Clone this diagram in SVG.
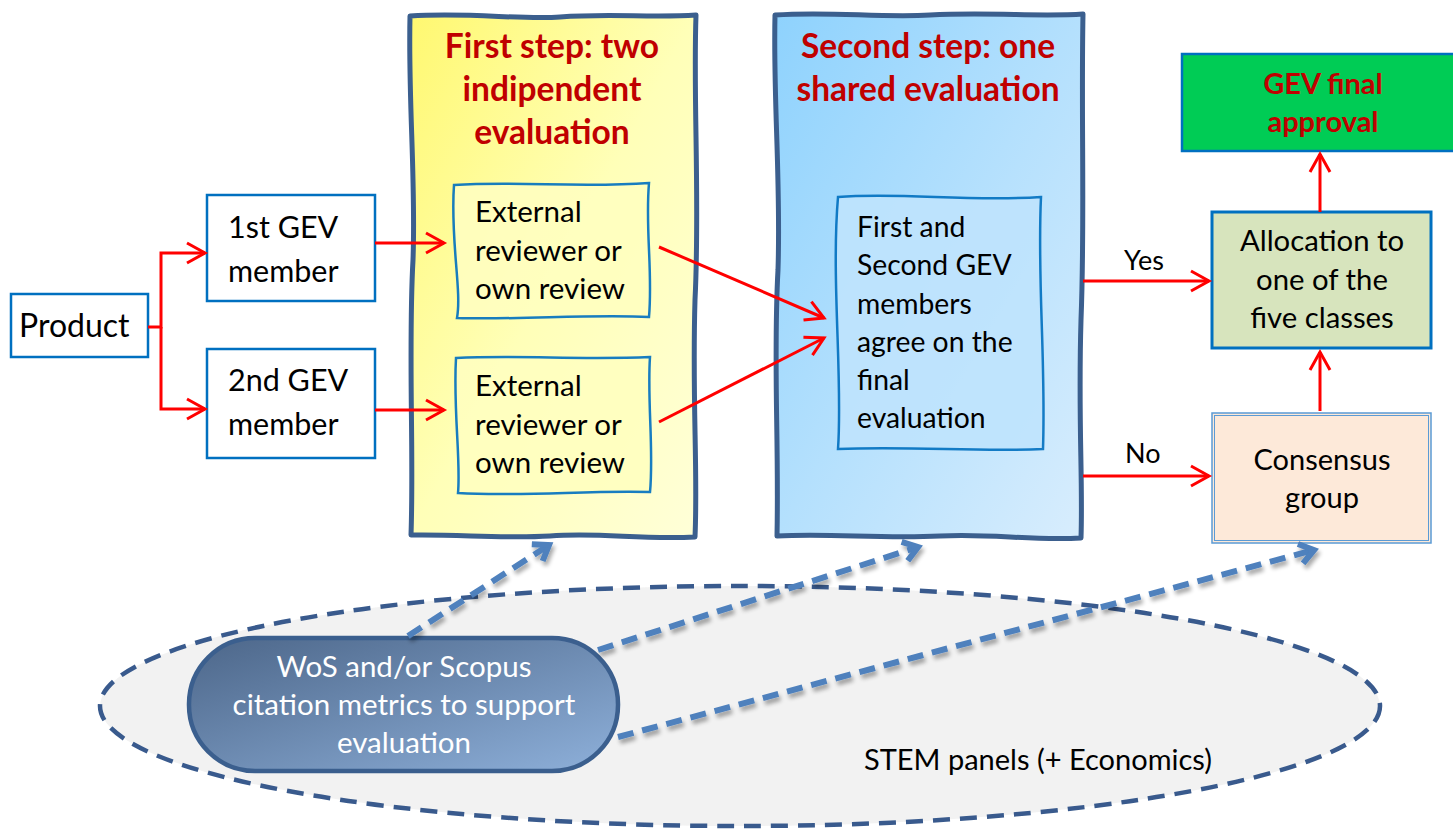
<svg xmlns="http://www.w3.org/2000/svg" width="1453" height="832" viewBox="0 0 1453 832">
<defs>
<linearGradient id="gy" x1="0" y1="0" x2="1" y2="1"><stop offset="0" stop-color="#fff870"/><stop offset="0.5" stop-color="#ffffb8"/><stop offset="1" stop-color="#ffffd8"/></linearGradient>
<linearGradient id="gb" x1="0" y1="0" x2="1" y2="1"><stop offset="0" stop-color="#8ed2fd"/><stop offset="0.5" stop-color="#b4e0fd"/><stop offset="1" stop-color="#d8edfd"/></linearGradient>
<linearGradient id="gp" x1="0" y1="0" x2="1" y2="1"><stop offset="0" stop-color="#4c6689"/><stop offset="1" stop-color="#8eb0da"/></linearGradient>
<marker id="ar" markerWidth="24" markerHeight="24" refX="19" refY="12" orient="auto" markerUnits="userSpaceOnUse"><path d="M1,2 L19,12 L1,22" fill="none" stroke="#ff0000" stroke-width="3"/></marker>
<marker id="ab" markerWidth="24" markerHeight="24" refX="18" refY="12" orient="auto" markerUnits="userSpaceOnUse"><path d="M4,2 L18,12 L4,22" fill="none" stroke="#4f81bd" stroke-width="6" stroke-linejoin="miter"/></marker>
<filter id="sh" x="-10%" y="-10%" width="120%" height="130%"><feGaussianBlur in="SourceAlpha" stdDeviation="2"/><feOffset dx="2" dy="4"/><feComponentTransfer><feFuncA type="linear" slope="0.35"/></feComponentTransfer><feMerge><feMergeNode/><feMergeNode in="SourceGraphic"/></feMerge></filter>
<style>
.t{font-family:Lato,"Open Sans",sans-serif;fill:#000}
.tc{text-anchor:middle}
.h{font-family:Lato,"Open Sans",sans-serif;font-weight:bold;fill:#c00000;text-anchor:middle}
.w{fill:#fff}
.box{fill:#fff;stroke:#0070c0;stroke-width:2.5}
.wv{stroke:#0070c0;stroke-width:2.5}
.panel{stroke:#3b5f8e;stroke-width:5;stroke-linejoin:round}
.rl{fill:none;stroke:#ff0000;stroke-width:3;marker-end:url(#ar)}
.bl{fill:none;stroke:#4f81bd;stroke-width:6;stroke-dasharray:16 9;marker-end:url(#ab)}
</style>
</defs>

<g id="stem-ellipse">
<ellipse cx="740" cy="706" rx="640" ry="120" fill="#f2f2f2" stroke="#2f5287" stroke-width="4.5" stroke-dasharray="17 10" opacity="0.95"/>
<text class="t" x="864" y="770" font-size="29">STEM panels (+ Economics)</text>
</g>

<g id="panel1">
<path class="panel" fill="url(#gy)" d="M410,16 C470,12 520,20 560,17 C610,13 650,18 696,15 C693,100 700,200 695,300 C692,400 698,470 695,537 C640,540 600,532 550,536 C500,539 460,534 411,535 C414,450 408,350 413,260 C416,180 408,100 410,16 Z"/>
<text class="h" x="552" y="58" font-size="33.5">First step: two</text>
<text class="h" x="552" y="101" font-size="33.5">indipendent</text>
<text class="h" x="552" y="144" font-size="33.5">evaluation</text>
</g>

<g id="panel2">
<path class="panel" fill="url(#gb)" d="M775,15 C830,11 880,18 930,15 C990,12 1040,17 1083,14 C1081,120 1085,220 1081,320 C1078,420 1083,480 1081,538 C1030,541 990,533 940,536 C880,539 830,533 777,536 C779,440 773,360 778,270 C781,180 773,100 775,15 Z"/>
<text class="h" x="928" y="58" font-size="33.5">Second step: one</text>
<text class="h" x="928" y="101" font-size="33.5">shared evaluation</text>
</g>

<g id="product">
<rect class="box" x="11" y="294" width="137" height="63"/>
<text class="t" x="19" y="337" font-size="32">Product</text>
</g>

<g id="gev1">
<rect class="box" x="207" y="195" width="168" height="106"/>
<text class="t" x="228" y="238" font-size="30.5">1st GEV</text>
<text class="t" x="228" y="282" font-size="30.5">member</text>
</g>

<g id="gev2">
<rect class="box" x="207" y="349" width="168" height="109"/>
<text class="t" x="228" y="391" font-size="30.5">2nd GEV</text>
<text class="t" x="228" y="435" font-size="30.5">member</text>
</g>

<g id="review1">
<path class="wv" fill="#ffffc0" d="M454,185 C520,181 580,188 649,183 C645,230 653,270 649,317 C590,314 520,320 457,318 C462,290 450,240 454,185 Z" opacity="0.9"/>
<text class="t" x="475" y="222" font-size="29.5">External</text>
<text class="t" x="475" y="261" font-size="29.5">reviewer or</text>
<text class="t" x="475" y="299" font-size="29.5">own review</text>
</g>

<g id="review2">
<path class="wv" fill="#ffffc0" d="M456,358 C520,355 580,360 650,357 C647,400 654,450 650,492 C590,490 520,497 458,493 C461,460 453,410 456,358 Z" opacity="0.9"/>
<text class="t" x="475" y="396" font-size="29.5">External</text>
<text class="t" x="475" y="435" font-size="29.5">reviewer or</text>
<text class="t" x="475" y="473" font-size="29.5">own review</text>
</g>

<g id="agree">
<path class="wv" fill="#bfe4fd" d="M838,197 C900,192 970,202 1041,197 C1037,280 1046,360 1043,449 C980,452 910,446 838,449 C843,380 831,280 838,197 Z" opacity="0.9"/>
<text class="t" x="857" y="237" font-size="28.3">First and</text>
<text class="t" x="857" y="275" font-size="28.3">Second GEV</text>
<text class="t" x="857" y="314" font-size="28.3">members</text>
<text class="t" x="857" y="352" font-size="28.3">agree on the</text>
<text class="t" x="857" y="390" font-size="28.3">final</text>
<text class="t" x="857" y="428" font-size="28.3">evaluation</text>
</g>

<g id="approval">
<rect x="1182" y="54" width="273" height="97" fill="#00cc55" stroke="#0070c0" stroke-width="2.5"/>
<text class="h" x="1323" y="94" font-size="29">GEV final</text>
<text class="h" x="1323" y="132" font-size="29">approval</text>
</g>

<g id="allocation">
<rect x="1212" y="212" width="219" height="136" fill="#d7e4bd" stroke="#0070c0" stroke-width="3"/>
<text class="t tc" x="1322" y="251" font-size="29.3">Allocation to</text>
<text class="t tc" x="1322" y="290" font-size="29.3">one of the</text>
<text class="t tc" x="1322" y="328" font-size="29.3">five classes</text>
</g>

<g id="consensus">
<rect x="1212" y="413" width="219" height="130" fill="#fde9d9" stroke="#5b9bd5" stroke-width="1.5"/>
<rect x="1214.5" y="415.5" width="214" height="125" fill="none" stroke="#5b9bd5" stroke-width="1"/>
<text class="t tc" x="1322" y="470" font-size="29">Consensus</text>
<text class="t tc" x="1322" y="508" font-size="29">group</text>
</g>

<g id="metrics">
<rect x="189" y="638" width="429" height="133" rx="66" fill="url(#gp)" stroke="#3b5f8e" stroke-width="4.5"/>
<text class="t tc w" x="404" y="677" font-size="29.5">WoS and/or Scopus</text>
<text class="t tc w" x="404" y="715" font-size="29.5">citation metrics to support</text>
<text class="t tc w" x="404" y="753" font-size="29.5">evaluation</text>
</g>

<g id="connectors">
<polyline class="rl" points="148,327 161,327 161,253 205,253"/>
<polyline class="rl" points="161,327 161,409 205,409"/>
<line class="rl" x1="375" y1="243" x2="444" y2="243"/>
<line class="rl" x1="375" y1="410" x2="444" y2="410"/>
<line class="rl" x1="659" y1="247" x2="824" y2="318"/>
<line class="rl" x1="659" y1="422" x2="824" y2="338"/>
<line class="rl" x1="1083" y1="281" x2="1209" y2="281"/>
<line class="rl" x1="1083" y1="476" x2="1209" y2="476"/>
<line class="rl" x1="1320" y1="212" x2="1320" y2="154"/>
<line class="rl" x1="1320" y1="411" x2="1320" y2="352"/>
<text class="t" x="1124" y="270" font-size="27">Yes</text>
<text class="t" x="1125" y="463" font-size="27">No</text>
<g filter="url(#sh)">
<line class="bl" x1="408" y1="636" x2="549" y2="545"/>
<line class="bl" x1="598" y1="650" x2="918" y2="547"/>
<line class="bl" x1="618" y1="737" x2="1314" y2="550"/>
</g>
</g>
</svg>
